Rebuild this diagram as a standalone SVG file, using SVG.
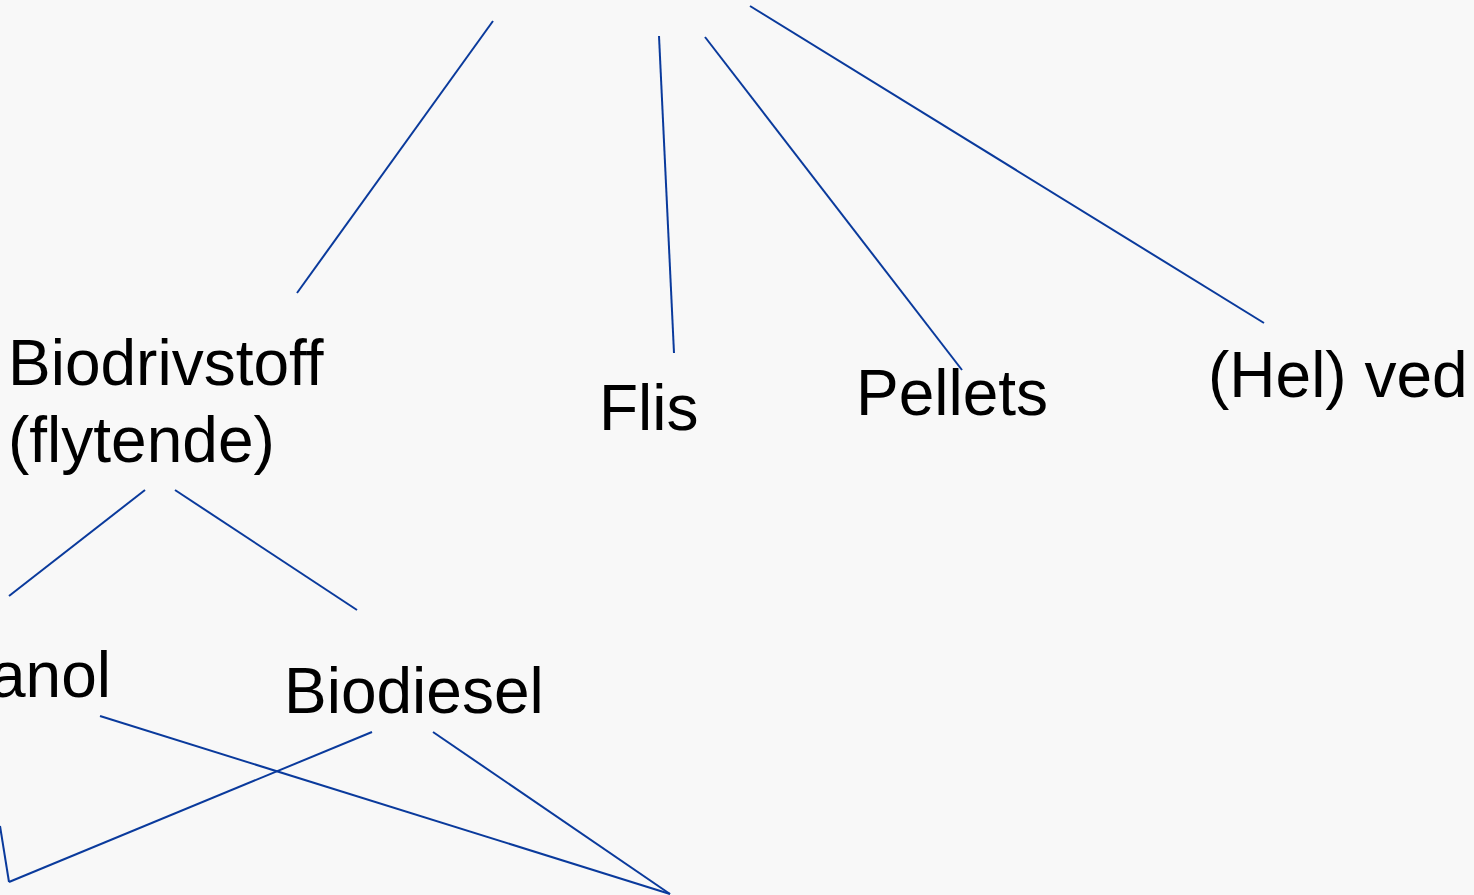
<svg xmlns="http://www.w3.org/2000/svg" width="1474" height="895" viewBox="0 0 1474 895">
<style>
.bg{fill:#f8f8f8}
.c line{stroke:#0a3a9c;stroke-width:2;fill:none}
text{font-family:"Liberation Sans",Arial,sans-serif;font-size:64px;fill:#000}
</style>
<rect class="bg" x="0" y="0" width="1474" height="895"/>
<g class="c" id="connectors">
<line x1="493" y1="21" x2="297" y2="293"/>
<line x1="659" y1="36" x2="674" y2="353"/>
<line x1="705" y1="37" x2="962" y2="370"/>
<line x1="750" y1="6" x2="1264" y2="323"/>
<line x1="145" y1="490" x2="9" y2="596"/>
<line x1="175" y1="490" x2="357" y2="610"/>
<line x1="100" y1="716" x2="670" y2="894"/>
<line x1="372" y1="732" x2="9" y2="882"/>
<line x1="0" y1="826" x2="9" y2="882"/>
<line x1="433" y1="732" x2="670" y2="894"/>
</g>
<g id="biodrivstoff"><text x="8" y="385">Biodrivstoff</text><text x="8" y="462">(flytende)</text></g>
<g id="flis"><text x="599" y="430">Flis</text></g>
<g id="pellets"><text x="856" y="415">Pellets</text></g>
<g id="ved"><text x="1208" y="397">(Hel) ved</text></g>
<g id="etanol"><text x="-10" y="697">anol</text></g>
<g id="biodiesel"><text x="284" y="713">Biodiesel</text></g>
</svg>
